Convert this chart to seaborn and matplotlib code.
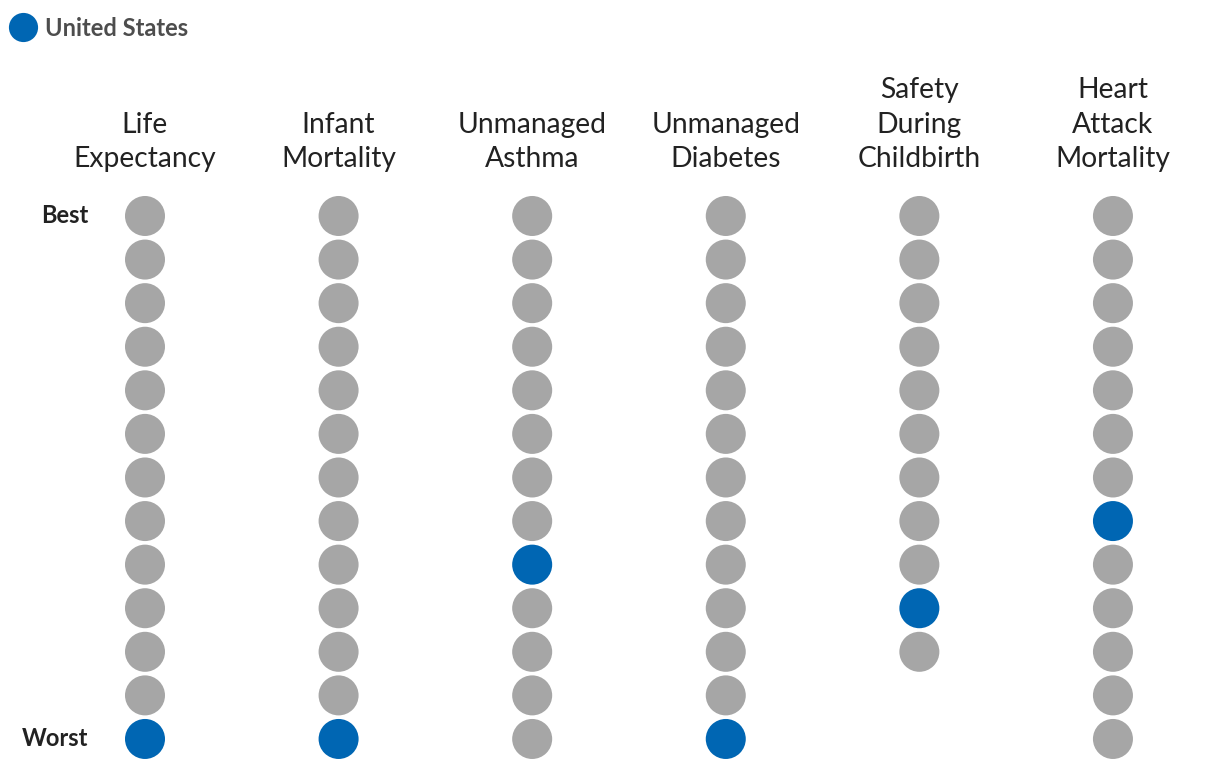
import matplotlib.pyplot as plt
import seaborn as sns
import pandas as pd
from matplotlib.lines import Line2D

# ______________________________________________________________________________

measures = [
    "Life\nExpectancy",
    "Infant\nMortality",
    "Unmanaged\nAsthma",
    "Unmanaged\nDiabetes",
    "Safety\nDuring\nChildbirth",
    "Heart\nAttack\nMortality",
]
country_counts = [13, 13, 13, 13, 11, 13]
us_rank = [13, 13, 9, 13, 10, 8]

GRAY = "#a6a6a6"
BLUE = "#0066b3"

rows = []
for i, (m, n, r) in enumerate(zip(measures, country_counts, us_rank)):
    for rank in range(1, n + 1):
        rows.append({"col": i, "rank": rank, "group": "US" if rank == r else "Other"})
df = pd.DataFrame(rows)

# ______________________________________________________________________________

sns.set_style("white")
plt.rcParams["font.family"] = ["Lato", "DejaVu Sans"]

fig = plt.figure(figsize=(12.2, 7.7), dpi=100)
ax = fig.add_axes([0, 0, 1, 1])

sns.scatterplot(
    data=df,
    x="col",
    y="rank",
    hue="group",
    palette={"Other": GRAY, "US": BLUE},
    s=830,
    linewidth=0,
    legend=False,
    ax=ax,
)

ax.set_xlim(-0.749, 5.553)
ax.set_ylim(13.712, -3.956)
ax.axis("off")

for i, m in enumerate(measures):
    ax.text(i, 0.0, m, ha="center", va="bottom", fontsize=20.3,
            color="#222222", linespacing=1.42)

ax.text(-0.295, 1, "Best", ha="right", va="center", fontsize=17,
        fontweight="bold", color="#222222")
ax.text(-0.295, 13, "Worst", ha="right", va="center", fontsize=17,
        fontweight="bold", color="#222222")

handle = Line2D([], [], marker="o", linestyle="none", markersize=21,
                markerfacecolor=BLUE, markeredgewidth=0)
leg = fig.legend([handle], ["United States"], loc="center left",
                 bbox_to_anchor=(0.009, 1 - 28 / 770), frameon=False,
                 handletextpad=0.45, borderaxespad=0, borderpad=0,
                 handlelength=1.0,
                 prop={"family": "Lato", "weight": "bold", "size": 17})
for t in leg.get_texts():
    t.set_color("#4d4d4d")

fig.savefig("out.png", dpi=100)
